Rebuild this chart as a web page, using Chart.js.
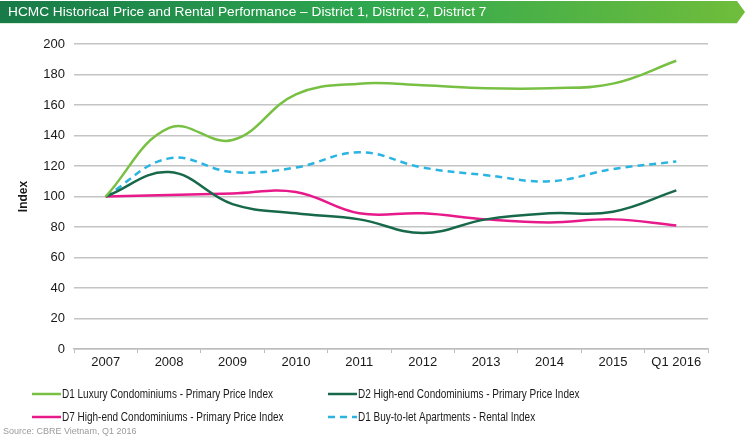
<!DOCTYPE html>
<html>
<head>
<meta charset="utf-8">
<script src="https://cdn.jsdelivr.net/npm/chart.js@4"></script>
<style>
    html, body { margin: 0; padding: 0; background: #fff; }
    #wrap { position: relative; width: 750px; height: 436px; }
    canvas { position: absolute; left: 0; top: 0; }
</style>
</head>
<body>
<div id="wrap"><canvas id="hcmcChart" width="750" height="436"></canvas></div>
<script>
// Chart data
const labels = ['2007', '2008', '2009', '2010', '2011', '2012', '2013', '2014', '2015', 'Q1 2016'];
const d1Luxury = [100, 145, 137, 167, 174, 173, 171, 171, 174, 189];
const d2HighEnd = [100, 116, 95, 89, 85, 76, 85, 89, 90, 104];
const d7HighEnd = [100, 101, 102, 103, 89, 89, 85, 83, 85, 81];
const d1Rental = [100, 125, 116, 119, 129, 119, 114, 110, 118, 123];
const yTicks = [0, 20, 40, 60, 80, 100, 120, 140, 160, 180, 200];

const seriesNames = [
    'D1 Luxury Condominiums - Primary Price Index',
    'D2 High-end Condominiums - Primary Price Index',
    'D7 High-end Condominiums - Primary Price Index',
    'D1 Buy-to-let Apartments - Rental Index'
];

const FONT = '"Liberation Sans", Arial, sans-serif';

// Title bar + two column legend + source line, drawn on the canvas
const decorPlugin = {
    id: 'decor',
    afterDraw(chart) {
        const ctx = chart.ctx;
        ctx.save();

        // title bar with arrow tip
        const grad = ctx.createLinearGradient(0, 0, 745, 0);
        grad.addColorStop(0, '#177a48');
        grad.addColorStop(0.5, '#2fa84f');
        grad.addColorStop(1, '#70bd3b');
        ctx.fillStyle = grad;
        ctx.beginPath();
        ctx.moveTo(0, 1);
        ctx.lineTo(737, 1);
        ctx.lineTo(745, 12);
        ctx.lineTo(737, 23);
        ctx.lineTo(0, 23);
        ctx.closePath();
        ctx.fill();
        ctx.fillStyle = '#d8eed8';
        ctx.fillRect(0, 23, 737, 1);

        ctx.fillStyle = '#ffffff';
        ctx.font = '13.7px ' + FONT;
        ctx.textBaseline = 'middle';
        ctx.fillText('HCMC Historical Price and Rental Performance \u2013 District 1, District 2, District 7', 8, 12.5);

        // legend (text is a bit condensed, like the original)
        const spots = [[32, 394], [328, 394], [32, 417], [328, 417]];
        ctx.font = '13.5px ' + FONT;
        chart.data.datasets.forEach((ds, i) => {
            const [x, y] = spots[i];
            ctx.strokeStyle = ds.borderColor;
            ctx.lineWidth = 2.5;
            ctx.setLineDash(ds.borderDash || []);
            ctx.beginPath();
            ctx.moveTo(x, y);
            ctx.lineTo(x + 29, y);
            ctx.stroke();
            ctx.setLineDash([]);
            ctx.save();
            ctx.translate(x + 30, y + 0.5);
            ctx.scale(0.74, 1);
            ctx.fillStyle = '#1a1a1a';
            ctx.fillText(ds.label, 0, 0);
            ctx.restore();
        });

        // source
        ctx.fillStyle = '#9a9a9a';
        ctx.font = '9px ' + FONT;
        ctx.fillText('Source: CBRE Vietnam, Q1 2016', 3, 432);
        ctx.restore();
    }
};

const ctx = document.getElementById('hcmcChart').getContext('2d');
const chart = new Chart(ctx, {
    type: 'line',
    data: {
        labels: labels,
        datasets: [
            { label: seriesNames[0], data: d1Luxury, borderColor: '#78c043' },
            { label: seriesNames[1], data: d2HighEnd, borderColor: '#17694a' },
            { label: seriesNames[2], data: d7HighEnd, borderColor: '#e8198b' },
            { label: seriesNames[3], data: d1Rental, borderColor: '#2ab4e2', borderDash: [7, 5] }
        ].map(ds => Object.assign({
            borderWidth: 2.5,
            pointRadius: 0,
            fill: false,
            tension: 0.4,
            cubicInterpolationMode: 'default'
        }, ds))
    },
    options: {
        responsive: false,
        animation: false,
        layout: { padding: { top: 44, right: 42, bottom: 0, left: 0 } },
        plugins: {
            legend: { display: false },
            tooltip: { enabled: false }
        },
        scales: {
            x: {
                offset: true,
                grid: {
                    display: true,
                    offset: true,
                    drawOnChartArea: false,
                    drawTicks: true,
                    tickLength: 4,
                    color: '#bdbdbd',
                    lineWidth: 1
                },
                border: { display: true, color: '#bdbdbd', width: 1.5 },
                ticks: {
                    color: '#1a1a1a',
                    font: { family: FONT, size: 13 },
                    padding: 2,
                    maxRotation: 0,
                    autoSkip: false
                },
                afterFit(scale) { scale.height = 87; }
            },
            y: {
                min: 0,
                max: 200,
                afterBuildTicks(scale) { scale.ticks = yTicks.map(v => ({ value: v })); },
                grid: { color: '#c4c4c4', lineWidth: 1.5, drawTicks: false },
                border: { display: false },
                ticks: {
                    color: '#1a1a1a',
                    font: { family: FONT, size: 13 },
                    padding: 9
                },
                title: {
                    display: true,
                    text: 'Index',
                    color: '#1a1a1a',
                    font: { family: FONT, size: 12, weight: 'bold' },
                    padding: { top: 16, bottom: 0 }
                },
                afterFit(scale) { scale.width = 74; }
            }
        }
    },
    plugins: [decorPlugin]
});
</script>
</body>
</html>
